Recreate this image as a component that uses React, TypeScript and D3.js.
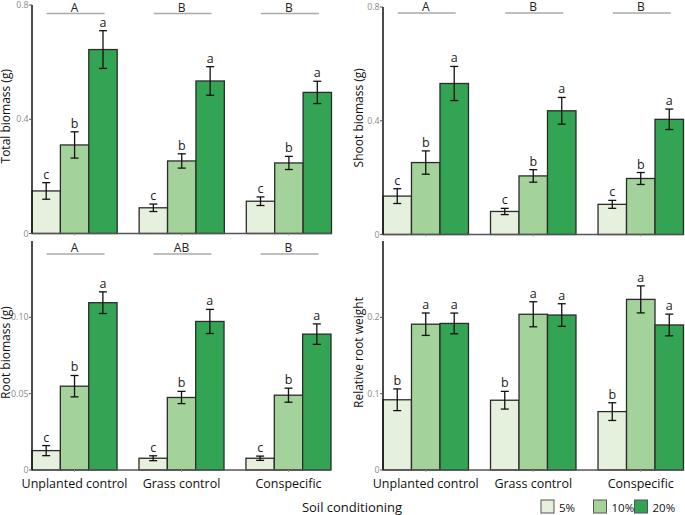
import React from "react";
import * as d3 from "d3";

const groups = ["Unplanted control", "Grass control", "Conspecific"];
const levels = ["5%", "10%", "20%"];
const colors = ["#e5f0dd", "#a3d29b", "#33a453"];

// Total biomass (g)
const totalMean = [[0.149, 0.31, 0.644], [0.09, 0.254, 0.534], [0.113, 0.247, 0.494]];
const totalSE = [[0.029, 0.046, 0.066], [0.013, 0.025, 0.05], [0.015, 0.023, 0.039]];
const totalLetters = [["c", "b", "a"], ["c", "b", "a"], ["c", "b", "a"]];
const totalGroupLetters = ["A", "B", "B"];

// Shoot biomass (g)
const shootMean = [[0.135, 0.253, 0.531], [0.081, 0.206, 0.435], [0.106, 0.197, 0.405]];
const shootSE = [[0.026, 0.041, 0.06], [0.011, 0.022, 0.047], [0.014, 0.021, 0.036]];
const shootLetters = [["c", "b", "a"], ["c", "b", "a"], ["c", "b", "a"]];
const shootGroupLetters = ["A", "B", "B"];

// Root biomass (g)
const rootMean = [[0.0127, 0.0549, 0.1096], [0.0077, 0.0475, 0.0973], [0.0077, 0.049, 0.089]];
const rootSE = [[0.0033, 0.007, 0.0071], [0.0016, 0.004, 0.0079], [0.0014, 0.0046, 0.0067]];
const rootLetters = [["c", "b", "a"], ["c", "b", "a"], ["c", "b", "a"]];
const rootGroupLetters = ["A", "AB", "B"];

// Relative root weight
const rrwMean = [[0.092, 0.191, 0.192], [0.0914, 0.204, 0.203], [0.0765, 0.2235, 0.19]];
const rrwSE = [[0.0142, 0.0147, 0.0136], [0.0116, 0.0164, 0.0148], [0.0116, 0.0177, 0.0142]];
const rrwLetters = [["b", "a", "a"], ["b", "a", "a"], ["b", "a", "a"]];
const rrwGroupLetters: string[] = [];

const totalTicks = [0, 0.4, 0.8];
const totalTickLabels = ["0", "0.4", "0.8"];
const rootTicks = [0, 0.05, 0.1];
const rootTickLabels = ["0", "0.05", "0.10"];
const rrwTicks = [0, 0.1, 0.2];
const rrwTickLabels = ["0", "0.1", "0.2"];

const FONT = "'Open Sans', 'Noto Sans', sans-serif";

type PanelProps = {
  x0: number; x1: number; yTop: number; yBottom: number;
  max: number; ticks: number[]; tickLabels: string[];
  mean: number[][]; se: number[][]; letters: string[][];
  groupLetters: string[]; sigOffset: number;
  label: string; labelX: number; showX: boolean;
};

function Panel(p: PanelProps) {
  const x = d3.scaleBand<string>().domain(groups).range([p.x0, p.x1]).paddingInner(0.205).paddingOuter(0);
  const xi = d3.scaleBand<string>().domain(levels).range([0, x.bandwidth()]).padding(0);
  const y = d3.scaleLinear().domain([0, p.max]).range([p.yBottom, p.yTop]);
  const midY = (p.yTop + p.yBottom) / 2 - 3;
  return (
    <g>
      {groups.map((g, gi) =>
        levels.map((l, li) => {
          const bx = (x(g) as number) + (xi(l) as number);
          const v = p.mean[gi][li];
          return (
            <rect key={g + l} x={bx} y={y(v)} width={xi.bandwidth()} height={y(0) - y(v)}
              fill={colors[li]} stroke="#2b2b2b" strokeWidth={1.3} />
          );
        })
      )}
      {groups.map((g, gi) =>
        levels.map((l, li) => {
          const cx = (x(g) as number) + (xi(l) as number) + xi.bandwidth() / 2;
          const v = p.mean[gi][li];
          const e = p.se[gi][li];
          return (
            <g key={"e" + g + l} stroke="#111" strokeWidth={1.3}>
              <line x1={cx} x2={cx} y1={y(v + e)} y2={y(v - e)} />
              <line x1={cx - 4} x2={cx + 4} y1={y(v + e)} y2={y(v + e)} />
              <line x1={cx - 4} x2={cx + 4} y1={y(v - e)} y2={y(v - e)} />
              <text x={cx} y={y(v + e) - 4} textAnchor="middle" fontSize={12.5} fill="#222"
                stroke="none" fontFamily={FONT}>{p.letters[gi][li]}</text>
            </g>
          );
        })
      )}
      {p.groupLetters.map((t, gi) => {
        const cx = (x(groups[gi]) as number) + x.bandwidth() / 2 + 1;
        const ly = p.yTop + p.sigOffset;
        return (
          <g key={"s" + gi}>
            <line x1={cx - 29} x2={cx + 29} y1={ly} y2={ly} stroke="#aaa" strokeWidth={1.3} />
            <text x={cx - 1} y={ly - 2} textAnchor="middle" fontSize={12} fill="#222" fontFamily={FONT}>{t}</text>
          </g>
        );
      })}
      <line x1={p.x0} x2={p.x1} y1={y(0)} y2={y(0)} stroke="#555" strokeWidth={1.3} />
      {groups.map((g) => {
        const cx = (x(g) as number) + x.bandwidth() / 2;
        return <line key={"xt" + g} x1={cx} x2={cx} y1={y(0)} y2={y(0) + 2} stroke="#999" strokeWidth={1} />;
      })}
      {p.showX && groups.map((g) => {
        const cx = (x(g) as number) + x.bandwidth() / 2;
        return (
          <text key={"xl" + g} x={cx} y={p.yBottom + 17.5} textAnchor="middle" fontSize={12.5}
            fill="#111" fontFamily={FONT}>{g}</text>
        );
      })}
      <line x1={p.x0} x2={p.x0} y1={y(0)} y2={y(p.max)} stroke="#111" strokeWidth={1.5} />
      {p.ticks.map((t, i) => (
        <g key={"yt" + i}>
          <line x1={p.x0 - 3} x2={p.x0} y1={y(t)} y2={y(t)} stroke="#555" strokeWidth={1} />
          <text x={p.x0 - 3.5} y={y(t) + 3} textAnchor="end" fontSize={8.8} fill="#8a8a8a"
            fontFamily={FONT}>{p.tickLabels[i]}</text>
        </g>
      ))}
      <text transform={`translate(${p.labelX},${midY}) rotate(-90)`} textAnchor="middle" fontSize={12}
        fill="#111" fontFamily={FONT}>{p.label}</text>
    </g>
  );
}

export default function App() {
  return (
    <svg width={685} height={515} style={{ position: "absolute", left: 0, top: 0, background: "#fff" }}>
      <rect x={0} y={0} width={685} height={515} fill="#fff" />
      <Panel x0={32} x1={331.5} yTop={5} yBottom={233.5} max={0.8} ticks={totalTicks} tickLabels={totalTickLabels}
        mean={totalMean} se={totalSE} letters={totalLetters} groupLetters={totalGroupLetters} sigOffset={8.5}
        label="Total biomass (g)" labelX={10} showX={false} />
      <Panel x0={383} x1={683.5} yTop={7} yBottom={234.5} max={0.8} ticks={totalTicks} tickLabels={totalTickLabels}
        mean={shootMean} se={shootSE} letters={shootLetters} groupLetters={shootGroupLetters} sigOffset={6}
        label="Shoot biomass (g)" labelX={363} showX={false} />
      <Panel x0={32} x1={331} yTop={241} yBottom={470} max={0.15} ticks={rootTicks} tickLabels={rootTickLabels}
        mean={rootMean} se={rootSE} letters={rootLetters} groupLetters={rootGroupLetters} sigOffset={13}
        label="Root biomass (g)" labelX={10} showX={true} />
      <Panel x0={383} x1={683.5} yTop={241} yBottom={470} max={0.3} ticks={rrwTicks} tickLabels={rrwTickLabels}
        mean={rrwMean} se={rrwSE} letters={rrwLetters} groupLetters={rrwGroupLetters} sigOffset={13}
        label="Relative root weight" labelX={363} showX={true} />
      <text x={352} y={511.5} textAnchor="middle" fontSize={13} fill="#111" fontFamily={FONT}>Soil conditioning</text>
      {levels.map((l, i) => {
        const sx = [541, 593.5, 634.5][i];
        return (
          <g key={"lg" + l}>
            <rect x={sx} y={500} width={13} height={13} fill={colors[i]} stroke="#555" strokeWidth={1} />
            <text x={sx + 18} y={511.5} fontSize={11.5} fill="#111" fontFamily={FONT}>{l}</text>
          </g>
        );
      })}
    </svg>
  );
}
